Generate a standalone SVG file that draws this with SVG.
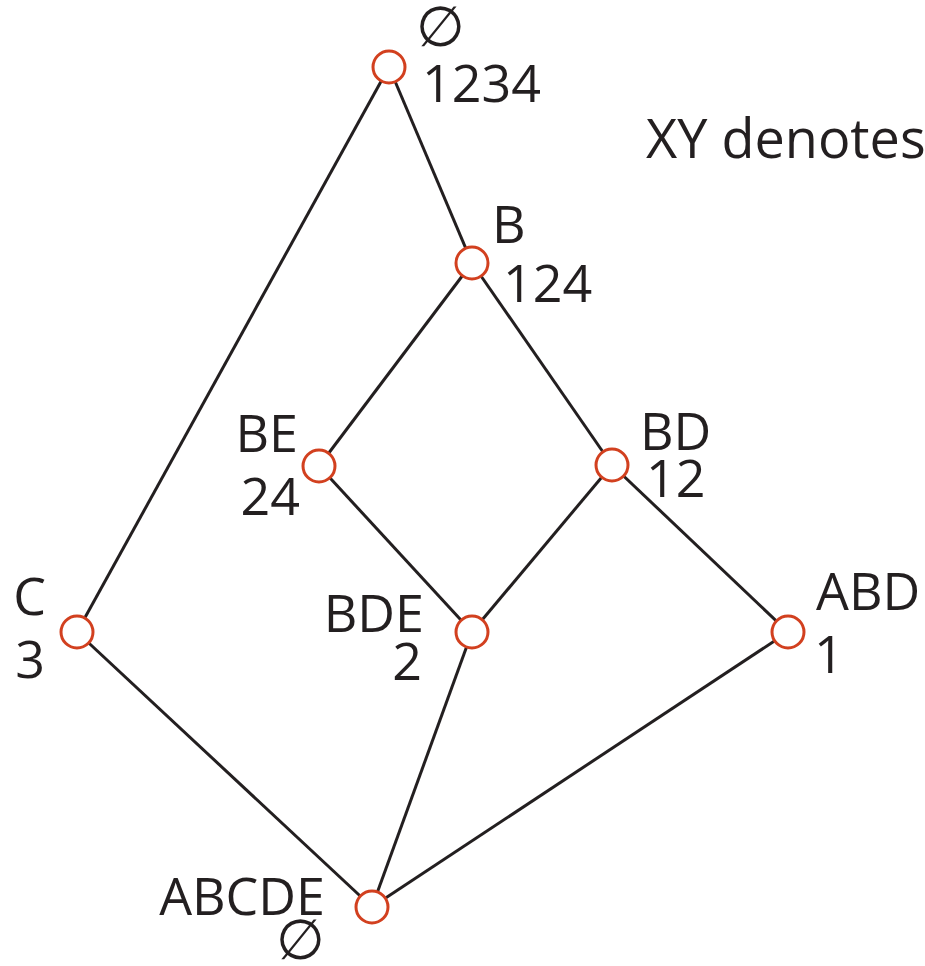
<svg xmlns="http://www.w3.org/2000/svg" width="925" height="966" viewBox="0 0 925 966">
<style>
.e{stroke:#231f20;stroke-width:3;fill:none}
.n{fill:#fff;stroke:#d2401f;stroke-width:3}
text{font-family:"Open Sans","Liberation Sans",sans-serif;font-size:52px;fill:#231f20}
.r{text-anchor:end}
.o{font-size:56px}
</style>
<rect width="925" height="966" fill="#fff"/>
<g id="connectors">
<line class="e" x1="389" y1="67" x2="77" y2="632"/>
<line class="e" x1="389" y1="67" x2="472" y2="263"/>
<line class="e" x1="472" y1="263" x2="319" y2="466"/>
<line class="e" x1="472" y1="263" x2="612" y2="465"/>
<line class="e" x1="319" y1="466" x2="472" y2="632"/>
<line class="e" x1="612" y1="465" x2="472" y2="632"/>
<line class="e" x1="612" y1="465" x2="788" y2="632"/>
<line class="e" x1="77" y1="632" x2="372" y2="907"/>
<line class="e" x1="472" y1="632" x2="372" y2="907"/>
<line class="e" x1="788" y1="632" x2="372" y2="907"/>
</g>
<g id="n-empty"><circle class="n" cx="389" cy="67" r="16"/><text class="o" x="416" y="46">∅</text><text x="422" y="102">1234</text></g>
<g id="n-B"><circle class="n" cx="472" cy="263" r="16"/><text x="492" y="243">B</text><text x="503" y="302">124</text></g>
<g id="n-BE"><circle class="n" cx="319" cy="466" r="16"/><text class="r" x="298" y="452">BE</text><text class="r" x="300" y="515">24</text></g>
<g id="n-BD"><circle class="n" cx="612" cy="465" r="16"/><text x="640" y="450">BD</text><text x="646" y="497">12</text></g>
<g id="n-C"><circle class="n" cx="77" cy="632" r="16"/><text class="r" x="46" y="615">C</text><text class="r" x="45" y="678">3</text></g>
<g id="n-BDE"><circle class="n" cx="472" cy="632" r="16"/><text class="r" x="424" y="632">BDE</text><text class="r" x="422" y="680">2</text></g>
<g id="n-ABD"><circle class="n" cx="788" cy="632" r="16"/><text x="816" y="610">ABD</text><text x="814" y="673">1</text></g>
<g id="n-ABCDE"><circle class="n" cx="372" cy="907" r="16"/><text class="r" x="325" y="915">ABCDE</text><text class="o" x="276" y="959">∅</text></g>
<text x="646" y="158" style="font-size:54px">XY denotes</text>
</svg>
